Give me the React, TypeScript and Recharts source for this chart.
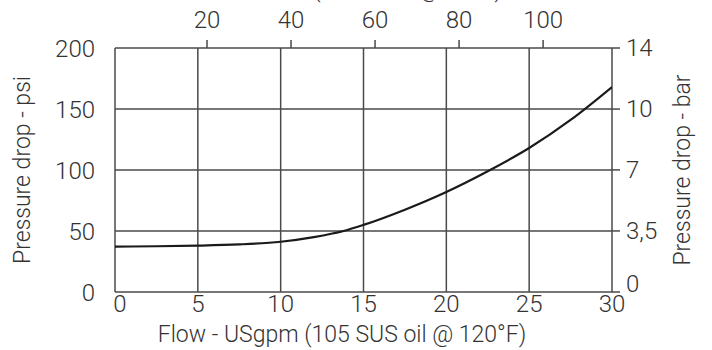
import { CartesianGrid, Line, LineChart, XAxis, YAxis } from 'recharts'

const flowGpm = [0, 2.5, 5, 7.5, 10, 12, 13.8, 15, 17.5, 20, 22.5, 25, 27.5, 30]
const dropPsi = [37.2, 37.5, 38, 39, 41.2, 45, 50, 55, 67.5, 82, 99, 118, 141, 168]

const gpmTicks = [0, 5, 10, 15, 20, 25, 30]
const psiTicks = [0, 50, 100, 150, 200]
const lpmTicks = [20, 40, 60, 80, 100]
// bar labels sit on the psi grid lines, rounded
const barTicks = [0, 3.45, 6.9, 10.34, 13.79]
const barLabels = ['0', '3,5', '7', '10', '14']

const LPM_PER_GPM = 3.785
const data = flowGpm.map((g, i) => ({ gpm: g, lpm: g * LPM_PER_GPM, psi: dropPsi[i] }))

const ink = '#333'
const gridColor = '#4a4a4a'
const font = 'Roboto, "Liberation Sans", sans-serif'
const tickStyle = { fontSize: 24, fill: ink, fontFamily: font, fontWeight: 300 }
const labelStyle = { ...tickStyle, fontSize: 23 }

const BottomTick = ({ x, y, payload, index }: any) => (
  <text x={x + (index === 0 ? 5 : 0)} y={y} dy="0.75em" textAnchor="middle" {...tickStyle}>
    {payload.value}
  </text>
)

const TopTick = ({ x, y, payload }: any) => (
  <text x={x} y={y} textAnchor="middle" {...tickStyle}>
    {payload.value}
  </text>
)

const BarTick = ({ x, y, index }: any) => (
  <text x={x} y={y - (index === 0 ? 8 : 0)} dy="0.35em" textAnchor="start" {...tickStyle}>
    {barLabels[index]}
  </text>
)

const sideLabel = (text: string, dx: number) => (props: any) => {
  const vb = props.viewBox
  const cx = vb.x + dx
  const cy = vb.y + vb.height / 2
  return (
    <text x={cx} y={cy} transform={`rotate(-90, ${cx}, ${cy})`} textAnchor="middle" dominantBaseline="central" {...labelStyle}>
      {text}
    </text>
  )
}

export default function App() {
  return (
    <div style={{ width: 712, height: 350, background: '#fff' }}>
      <style>{'body{margin:0}'}</style>
      <LineChart width={712} height={350} data={data} margin={{ top: 0, right: 0, bottom: 0, left: 0 }}>
        <CartesianGrid
          xAxisId="gpm"
          yAxisId="psi"
          stroke={gridColor}
          strokeWidth={1.5}
          horizontalValues={psiTicks}
          verticalValues={gpmTicks}
        />
        <XAxis
          xAxisId="gpm"
          dataKey="gpm"
          type="number"
          domain={[0, 30]}
          allowDataOverflow
          ticks={gpmTicks}
          height={58}
          axisLine={false}
          tickLine={false}
          tickSize={0}
          tickMargin={2}
          tick={<BottomTick />}
          label={{
            content: (p: any) => (
              <text x={p.viewBox.x + 227} y={p.viewBox.y + 42} textAnchor="middle" dominantBaseline="central" {...labelStyle}>
                Flow - USgpm (105 SUS oil @ 120°F)
              </text>
            ),
          }}
        />
        <XAxis
          xAxisId="lpm"
          dataKey="lpm"
          orientation="top"
          type="number"
          domain={[-1.9, 116.4]}
          allowDataOverflow
          ticks={lpmTicks}
          interval={0}
          height={48}
          axisLine={false}
          tickLine={{ stroke: gridColor, strokeWidth: 1.5 }}
          tickSize={8}
          tickMargin={12}
          tick={<TopTick />}
          label={{
            content: (p: any) => (
              <text x={p.viewBox.x + 227} y={-3} textAnchor="middle" {...labelStyle}>
                Flow - L/min (22 cSt oil @ 50°C)
              </text>
            ),
          }}
        />
        <YAxis
          yAxisId="psi"
          domain={[0, 200]}
          allowDataOverflow
          ticks={psiTicks}
          width={115}
          axisLine={false}
          tickLine={false}
          tickSize={0}
          tickMargin={20}
          tick={tickStyle}
          label={{ content: sideLabel('Pressure drop - psi', 22) }}
        />
        <YAxis
          yAxisId="bar"
          orientation="right"
          domain={[0, 13.79]}
          allowDataOverflow
          ticks={barTicks}
          width={100}
          axisLine={false}
          tickLine={{ stroke: gridColor, strokeWidth: 1.5 }}
          tickSize={8}
          tickMargin={6}
          tick={<BarTick />}
          label={{ content: sideLabel('Pressure drop - bar', 70) }}
        />
        <Line
          xAxisId="gpm"
          yAxisId="psi"
          dataKey="psi"
          type="monotone"
          stroke="#1a1a1a"
          strokeWidth={2.2}
          dot={false}
          isAnimationActive={false}
        />
      </LineChart>
    </div>
  )
}
